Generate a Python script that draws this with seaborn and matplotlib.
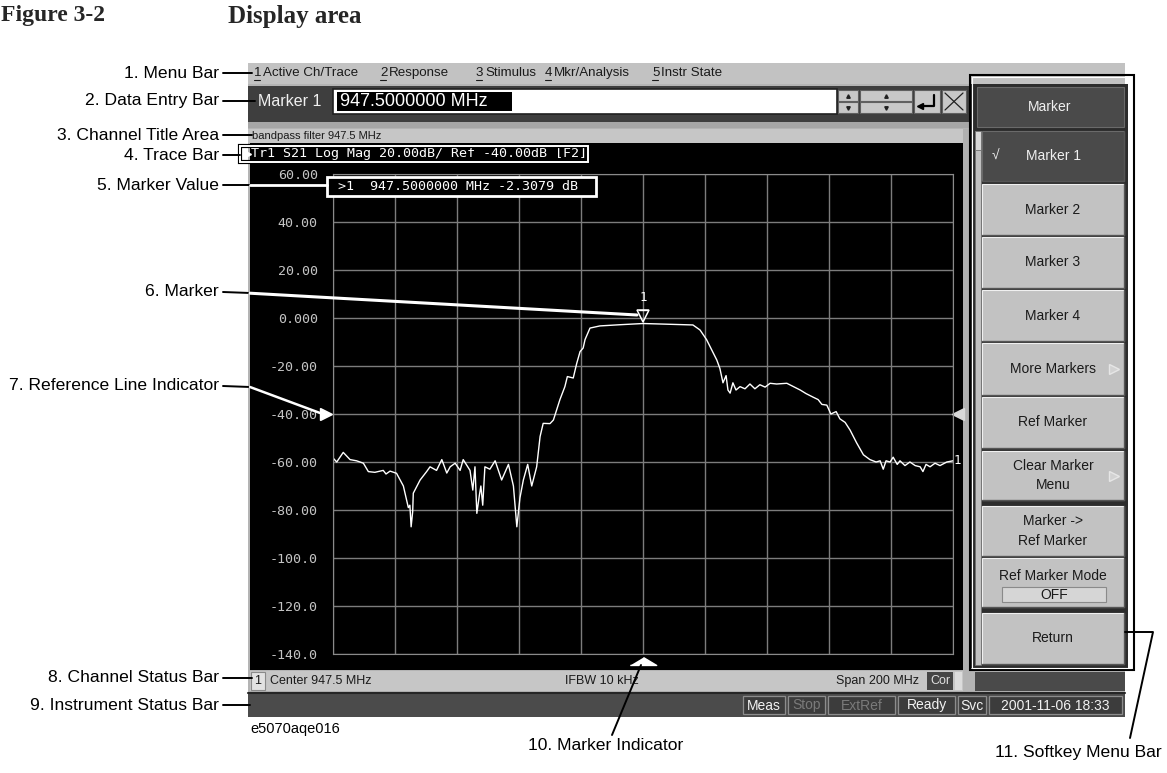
import matplotlib
matplotlib.use("Agg")
import matplotlib.pyplot as plt
from matplotlib.patches import Rectangle
from matplotlib.transforms import blended_transform_factory
import numpy as np
import pandas as pd
import seaborn as sns

# S21 trace of the bandpass filter
freq_mhz = [847.5, 848.7, 850.8, 853.0, 855.1, 857.3, 858.9, 861.0, 863.7, 864.6,
            865.9, 868.0, 870.2, 871.8, 872.3, 872.7, 873.2, 873.4, 875.6, 877.7,
            878.8, 880.9, 882.6, 884.2, 885.3, 886.9, 888.5, 889.5, 891.7, 892.6,
            893.3, 893.9, 894.7, 895.2, 895.8, 896.5, 898.1, 899.8, 901.9, 904.1,
            905.7, 906.8, 907.8, 908.9, 910.3, 911.6, 913.2, 914.3, 915.3, 917.5,
            918.6, 920.7, 922.3, 923.1, 925.0, 926.1, 927.2, 928.2, 928.8, 930.4,
            933.6, 940.1, 947.5, 953.0, 963.6, 965.9, 968.0, 971.3, 972.3, 973.3,
            974.3, 974.9, 975.6, 976.5, 977.5, 978.8, 980.4, 982.0, 983.6, 985.2,
            986.9, 988.5, 990.6, 993.9, 995.9, 998.2, 1000.1, 1002.4, 1004.0, 1005.2,
            1006.8, 1008.1, 1009.8, 1011.0, 1012.7, 1014.3, 1016.4, 1018.6, 1020.7, 1022.7,
            1024.0, 1025.0, 1025.9, 1027.2, 1028.2, 1029.5, 1030.4, 1032.0, 1033.6, 1035.3,
            1036.9, 1037.8, 1038.8, 1040.1, 1041.7, 1043.3, 1045.5, 1047.5]
s21_db = [-58.3, -60.0, -56.0, -59.0, -59.5, -60.5, -64.0, -64.3, -63.5, -65.0,
          -63.8, -64.7, -70.0, -79.0, -78.0, -87.0, -80.7, -73.0, -67.5, -64.0,
          -62.0, -63.5, -59.0, -64.6, -62.0, -60.5, -63.5, -59.0, -63.5, -71.7,
          -62.0, -81.4, -74.0, -70.0, -78.0, -62.0, -63.0, -59.5, -67.5, -61.0,
          -70.0, -87.0, -75.0, -67.5, -61.0, -70.0, -62.0, -49.4, -43.9, -44.0,
          -42.5, -34.0, -28.6, -24.4, -25.0, -19.0, -14.0, -12.5, -9.0, -4.2,
          -3.3, -2.8, -2.3, -2.5, -2.9, -5.0, -9.0, -17.5, -21.0, -27.0,
          -24.0, -30.0, -31.3, -27.0, -30.0, -28.6, -29.5, -27.5, -29.5, -27.8,
          -28.8, -27.2, -27.5, -27.2, -28.5, -30.0, -31.5, -33.0, -34.0, -36.0,
          -36.3, -40.0, -39.0, -42.0, -43.5, -46.7, -52.0, -57.0, -59.0, -60.0,
          -59.5, -63.0, -59.5, -60.0, -58.0, -61.0, -59.5, -61.5, -60.0, -61.5,
          -62.0, -64.0, -61.0, -62.0, -60.5, -61.5, -60.0, -59.5]

ytick_vals = [60, 40, 20, 0, -20, -40, -60, -80, -100, -120, -140]
ytick_labels = ["60.00", "40.00", "20.00", "0.000", "-20.00", "-40.00", "-60.00",
                "-80.00", "-100.0", "-120.0", "-140.0"]

center_mhz = 947.5
span_mhz = 200.0
marker_mhz = 947.5
marker_db = -2.3079
ref_db = -40.0

menu_items = ["Active Ch/Trace", "Response", "Stimulus", "Mkr/Analysis", "Instr State"]
softkeys = ["Marker 1", "Marker 2", "Marker 3", "Marker 4", "More Markers", "Ref Marker",
            "Clear Marker\nMenu", "Marker ->\nRef Marker", "Ref Marker Mode", "Return"]
status_items = ["Meas", "Stop", "ExtRef", "Ready", "Svc", "2001-11-06 18:33"]
callouts = ["1. Menu Bar", "2. Data Entry Bar", "3. Channel Title Area", "4. Trace Bar",
            "5. Marker Value", "6. Marker", "7. Reference Line Indicator",
            "8. Channel Status Bar", "9. Instrument Status Bar",
            "10. Marker Indicator", "11. Softkey Menu Bar"]

sns.set_style("white")
plt.rcParams["font.family"] = ["Liberation Sans", "DejaVu Sans"]
MONO = ["DejaVu Sans Mono"]
CALL = 12.6

fig = plt.figure(figsize=(11.67, 7.73), dpi=100)
W, H = 1167, 773

bg = fig.add_axes([0, 0, 1, 1])
bg.set_xlim(0, W)
bg.set_ylim(H, 0)
bg.axis("off")


def box(a, x0, y0, x1, y1, fc, ec="none", lw=1.0, z=1):
    a.add_patch(Rectangle((x0, y0), x1 - x0, y1 - y0, facecolor=fc,
                          edgecolor=ec, linewidth=lw, zorder=z))


def txt(a, x, y, s, size=9.5, color="#1a1a1a", ha="left", **kw):
    a.text(x, y, s, fontsize=size, color=color, ha=ha, va="center", **kw)


# header
bg.text(1, 16, "Figure 3-2", fontsize=17, fontweight="bold", family="Liberation Serif",
        ha="left", va="center")
bg.text(228, 16, "Display area", fontsize=18, fontweight="bold", family="Liberation Serif",
        ha="left", va="center")

# screen frame
box(bg, 248, 63, 1125, 717, "#b4b4b4")
# menu bar
box(bg, 248, 63, 1125, 84, "#c2c2c2")
menu_x = [254, 380, 476, 545, 652]
for i, (mx, item) in enumerate(zip(menu_x, menu_items)):
    txt(bg, mx, 73, str(i + 1), size=9.6)
    bg.plot([mx, mx + 6], [80, 80], color="#1a1a1a", lw=0.8)
    txt(bg, mx + 9, 73, item, size=9.6)

# data entry bar
box(bg, 248, 86, 970, 122, "#3e3e3e")
txt(bg, 258, 102, "Marker 1", size=11.5, color="#f0f0f0")
box(bg, 333, 89, 837, 114, "white", ec="#202020", lw=1.2)
box(bg, 337, 92, 512, 111, "black")
txt(bg, 340, 102, "947.5000000 MHz", size=13, color="white")
for x0, x1 in [(838, 858), (860, 912)]:
    box(bg, x0, 90, x1, 101, "#c8c8c8", ec="#606060", lw=0.8)
    box(bg, x0, 102, x1, 113, "#c8c8c8", ec="#606060", lw=0.8)
    xc = (x0 + x1) / 2
    bg.plot(xc, 95.5, marker="^", ms=2.5, color="#202020")
    bg.plot(xc, 107.5, marker="v", ms=2.5, color="#202020")
box(bg, 914, 90, 940, 113, "#c8c8c8", ec="#606060", lw=0.8)
bg.plot([934, 934, 920], [95, 106, 106], color="black", lw=1.6)
bg.plot(920, 106, marker="<", ms=5, color="black")
box(bg, 942, 90, 966, 113, "#c8c8c8", ec="#606060", lw=0.8)
bg.plot([945, 963], [93, 110], color="#202020", lw=0.9)
bg.plot([945, 963], [110, 93], color="#202020", lw=0.9)

# channel title
box(bg, 248, 122, 970, 128, "#a6a6a6")
box(bg, 248, 129, 963, 143, "#c6c6c6")
txt(bg, 252, 136, "bandpass filter 947.5 MHz", size=8, color="#1a1a1a")

# display
box(bg, 250, 143, 963, 670, "black")
box(bg, 963, 129, 975, 670, "#b0b0b0")
bg.plot(247.5, 154, marker=">", ms=5, color="white", zorder=3)
txt(bg, 251, 154, "Tr1 S21 Log Mag 20.00dB/ Ref -40.00dB [F2]", size=9.6,
    color="white", family=MONO, zorder=3)

# channel status bar
box(bg, 250, 671, 963, 691, "#c6c6c6")
box(bg, 251, 672, 265, 690, "#e2e2e2", ec="#8a8a8a", lw=0.8)
txt(bg, 254, 681, "1", size=9)
txt(bg, 270, 681, "Center %.1f MHz" % center_mhz, size=9)
txt(bg, 565, 681, "IFBW 10 kHz", size=9)
txt(bg, 836, 681, "Span %.0f MHz" % span_mhz, size=9)
box(bg, 927, 672, 953, 690, "#454545")
txt(bg, 940, 681, "Cor", size=9, color="#e0e0e0", ha="center")
box(bg, 955, 672, 962, 690, "#dcdcdc")
box(bg, 975, 672, 1125, 691, "#4a4a4a")

# instrument status bar
box(bg, 248, 693, 1125, 717, "#4b4b4b")
bg.plot([248, 1125], [693, 693], color="#262626", lw=1.5)
status_x = [(743, 785), (788, 825), (828, 895), (898, 955), (958, 986), (989, 1122)]
for (x0, x1), s in zip(status_x, status_items):
    box(bg, x0, 696, x1, 714, "#3c3c3c", ec="#8c8c8c", lw=0.9)
    col = "#7a7a7a" if s in ("Stop", "ExtRef") else "#f2f2f2"
    txt(bg, (x0 + x1) / 2, 705.5, s, size=10, color=col, ha="center")

txt(bg, 250, 729, "e5070aqe016", size=10.5, color="black")

# softkey column
box(bg, 970, 84, 1128, 668, "#2c2c2c")
box(bg, 975, 131, 981, 665, "#c0c0c0", ec="#707070", lw=0.6)
box(bg, 975, 131, 981, 150, "#d8d8d8", ec="#707070", lw=0.6)
box(bg, 977, 87, 1124, 127, "#4a4a4a", ec="#6a6a6a", lw=0.8)
txt(bg, 1050, 107, "Marker", size=10, color="#f0f0f0", ha="center")
key_y = [(131, 181), (184, 235), (237, 288), (290, 341), (343, 395), (397, 448),
         (451, 500), (506, 556), (558, 607), (613, 664)]
for i, ((y0, y1), s) in enumerate(zip(key_y, softkeys)):
    dark = i == 0
    box(bg, 982, y0, 1124, y1, "#4a4a4a" if dark else "#c2c2c2",
        ec="#f0f0f0" if not dark else "#6a6a6a", lw=0.8)
    bg.plot([982, 1124, 1124], [y1, y1, y0], color="#555555", lw=1)
    col = "#f0f0f0" if dark else "#1a1a1a"
    if s == "Ref Marker Mode":
        txt(bg, 1053, 576, s, size=10, color=col, ha="center")
        box(bg, 1002, 587, 1106, 602, "#d6d6d6", ec="#8a8a8a", lw=0.8)
        txt(bg, 1054, 595, "OFF", size=10, color=col, ha="center")
    else:
        bg.text(1053, (y0 + y1) / 2, s, fontsize=10, color=col, ha="center",
                va="center", linespacing=1.5)
    if s in ("More Markers", "Clear Marker\nMenu"):
        bg.plot(1114, (y0 + y1) / 2, marker=">", ms=7, mfc="#d2d2d2", mec="#e6e6e6")
txt(bg, 992, 156, "\u221a", size=10, color="#f0f0f0")

# trace plot
ax = fig.add_axes([333 / W, 1 - 654 / H, 620 / W, 480 / H])
ax.set_facecolor("black")
df = pd.DataFrame({"freq": freq_mhz, "db": s21_db})
sns.lineplot(data=df, x="freq", y="db", ax=ax, color="white", lw=1.0)
f0 = center_mhz - span_mhz / 2
ax.set_xlim(f0, f0 + span_mhz)
ax.set_ylim(-140, 60)
ax.set_xticks(np.linspace(f0, f0 + span_mhz, 11))
ax.set_yticks(ytick_vals)
ax.set_yticklabels(ytick_labels, family=MONO, fontsize=9.6, color="#c4c4c4")
ax.tick_params(length=0, labelbottom=False, pad=11)
ax.grid(True, color="#7c7c7c", lw=1.0)
ax.set_axisbelow(True)
for sp in ax.spines.values():
    sp.set_color("#8a8a8a")
ax.set_xlabel("")
ax.set_ylabel("")

ax.plot(marker_mhz, marker_db + 3.2, marker="v", ms=8, mfc="none", mec="white", mew=1.1)
ax.plot([marker_mhz - 1.3, marker_mhz + 1.3], [marker_db + 5.6] * 2, color="white", lw=1)
ax.text(marker_mhz, marker_db + 11, "1", color="white", ha="center", va="center",
        fontsize=9, family=MONO)
ax.text(f0 + span_mhz + 0.3, s21_db[-1], "1", color="white", ha="left", va="center",
        fontsize=9, family=MONO, clip_on=False)

ty = blended_transform_factory(ax.transAxes, ax.transData)
ax.plot([-0.011], [ref_db], marker=">", ms=8.5, color="white", transform=ty, clip_on=False)
ax.plot([1.008], [ref_db], marker="<", ms=8.5, color="#d8d8d8", transform=ty, clip_on=False)
tx = blended_transform_factory(ax.transData, ax.transAxes)
ax.plot([marker_mhz], [-0.014], marker=[(-1, -0.3), (1, -0.3), (0, 0.3)], ms=19,
        color="white", transform=tx, clip_on=False)

# callout layer
top = fig.add_axes([0, 0, 1, 1], facecolor="none")
top.set_xlim(0, W)
top.set_ylim(H, 0)
top.axis("off")

box(top, 327, 177, 596, 196, "black", ec="white", lw=2, z=2)
top.text(338, 187, ">1  %.7f MHz %.4f dB" % (marker_mhz, marker_db), fontsize=9.6,
         color="white", family=MONO, va="center", zorder=3)
box(top, 240, 146, 588, 162, "none", ec="black", lw=3, z=2)
box(top, 240, 146, 588, 162, "none", ec="white", lw=1.4, z=2)
box(top, 970, 75, 1134, 670, "none", ec="black", lw=1.5, z=2)
box(top, 972, 77, 1131, 668, "none", ec="white", lw=0.8, z=2)

left_y = [73, 101, 135, 155, 185, 292, 386, 678, 705]
left_end = [252, 255, 252, 240, 250, 250, 250, 252, 250]
for s, y, xe in zip(callouts[:9], left_y, left_end):
    top.text(219, y, s, fontsize=CALL, ha="right", va="center", color="black")
    top.plot([223, xe], [y, y] if s not in ("6. Marker", "7. Reference Line Indicator") else [y, y + 1],
             color="black", lw=1.4)
top.plot([250, 327], [185, 185], color="white", lw=2)
top.plot([250, 637], [293.2, 315], color="white", lw=2.2)
top.plot([250, 320], [387, 413], color="white", lw=1.8)
top.plot([612, 641], [735, 665], color="black", lw=1.4)
top.text(606, 746, callouts[9], fontsize=CALL, ha="center", va="center", color="black")
top.plot([1130, 1153, 1125], [738, 632, 632], color="black", lw=1.4)
top.text(1162, 752, callouts[10], fontsize=CALL, ha="right", va="center", color="black")

fig.savefig("out.png", dpi=100)
